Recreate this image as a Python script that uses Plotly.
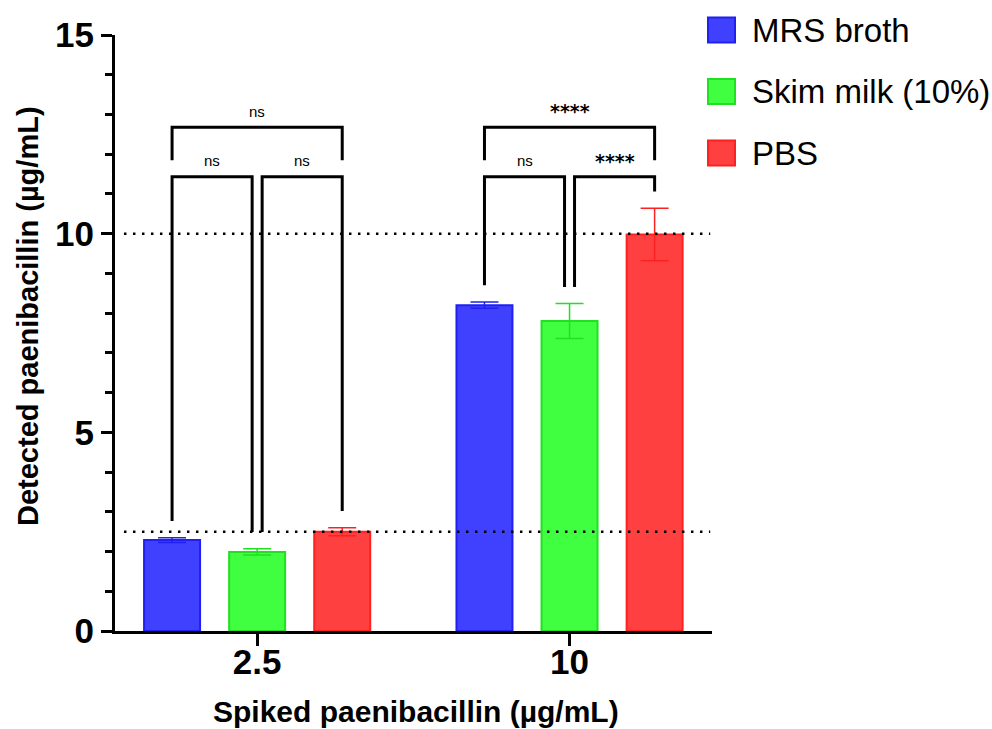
import plotly.graph_objects as go

# ---------------- data ----------------
groups = ["2.5", "10"]                      # spiked concentration (µg/mL)
series_names = ["MRS broth", "Skim milk (10%)", "PBS"]
mrs_mean = [2.29, 8.20]
mrs_sd = [0.06, 0.08]
skim_mean = [1.99, 7.80]
skim_sd = [0.08, 0.44]
pbs_mean = [2.50, 9.98]
pbs_sd = [0.10, 0.66]
ref_lines = [2.5, 10]
y_major_ticks = [0, 5, 10, 15]
y_extra_label = [2.5]
comp_labels_25 = ["ns", "ns", "ns"]        # MRS-Skim, Skim-PBS, MRS-PBS
comp_labels_10 = ["ns", "****", "****"]
x_title = "Spiked paenibacillin (µg/mL)"
y_title = "Detected paenibacillin (µg/mL)"

# ---------------- style ----------------
fills = ["#4040FF", "#40FF40", "#FF4040"]
borders = ["#2020F0", "#20E020", "#FF2020"]
FONT = "Liberation Sans, Arial, sans-serif"
TICK_SIZE = 35

means = [mrs_mean, skim_mean, pbs_mean]
sds = [mrs_sd, skim_sd, pbs_sd]
xpos = list(range(len(groups)))

BARGAP = 0.183
BARGROUPGAP = 0.342
slot = (1 - BARGAP) / 3
offsets = [(k - 1) * slot for k in range(3)]

fig = go.Figure()
for k in range(3):
    fig.add_trace(go.Bar(
        x=xpos, y=means[k], name=series_names[k],
        marker=dict(color=fills[k], line=dict(color=borders[k], width=2)),
        error_y=dict(type="data", array=sds[k], visible=True,
                     color=borders[k], thickness=1.5, width=14),
        showlegend=False,
    ))

shapes = []
annotations = []

# dotted reference lines
for v in ref_lines:
    shapes.append(dict(type="line", xref="paper", yref="y", x0=0.015, x1=0.997,
                       y0=v, y1=v, layer="above",
                       line=dict(color="black", width=2.5, dash="2.5px,6.5px")))


def label_font(lab):
    star = lab.startswith("*")
    return dict(family=("DejaVu Sans" if star else FONT), size=(19 if star else 15),
                color="black", weight=("bold" if star else "normal"))


# significance brackets
LW = 3
GAP = 0.42
SMALL = 0.016
Y_LOW = 11.43
Y_TOP = 12.68
Y_TOP_LEG = 11.85
for g, labels in zip(xpos, [comp_labels_25, comp_labels_10]):
    tops = [means[k][g] + sds[k][g] + GAP for k in range(3)]
    # adjacent comparisons
    for (i, j), lab in zip([(0, 1), (1, 2)], labels[:2]):
        xl = g + offsets[i] + (SMALL if i == 1 else 0)
        xr = g + offsets[j] - (SMALL if j == 1 else 0)
        path = f"M {xl},{tops[i]} L {xl},{Y_LOW} L {xr},{Y_LOW} L {xr},{tops[j]}"
        shapes.append(dict(type="path", xref="x", yref="y", path=path,
                           line=dict(color="black", width=LW)))
        annotations.append(dict(x=(xl + xr) / 2, y=11.83, xref="x", yref="y",
                                text=lab, showarrow=False, font=label_font(lab)))
    # outer comparison
    xl = g + offsets[0]
    xr = g + offsets[2]
    path = f"M {xl},{Y_TOP_LEG} L {xl},{Y_TOP} L {xr},{Y_TOP} L {xr},{Y_TOP_LEG}"
    shapes.append(dict(type="path", xref="x", yref="y", path=path,
                       line=dict(color="black", width=LW)))
    lab = labels[2]
    annotations.append(dict(x=(xl + xr) / 2, y=13.08, xref="x", yref="y",
                            text=lab, showarrow=False, font=label_font(lab)))

# pixel helpers for paper coordinates
W_PLOT = 597.0
H_PLOT = 596.0
L_M = 115.0
T_M = 35.0


def px_x(p):
    return (p - L_M) / W_PLOT


def px_y(p):
    return (T_M + H_PLOT - p) / H_PLOT


# manual legend (large square swatches)
for k, name in enumerate(series_names):
    cy = 30 + 61.5 * k
    shapes.append(dict(type="rect", xref="paper", yref="paper",
                       x0=px_x(708), x1=px_x(735), y0=px_y(cy + 12.5), y1=px_y(cy - 12.5),
                       fillcolor=fills[k], line=dict(color=borders[k], width=2)))
    annotations.append(dict(x=px_x(750), y=px_y(cy), xref="paper", yref="paper",
                            xanchor="left", yanchor="middle", text=name, showarrow=False,
                            font=dict(family=FONT, size=33, color="black")))

# axis titles
annotations.append(dict(x=px_x(416), y=px_y(711), xref="paper", yref="paper",
                        xanchor="center", yanchor="middle", text=x_title, showarrow=False,
                        font=dict(family=FONT, size=30, color="black", weight="bold")))
annotations.append(dict(x=px_x(28), y=px_y(316), xref="paper", yref="paper",
                        xanchor="center", yanchor="middle", text=y_title, showarrow=False,
                        textangle=-90,
                        font=dict(family=FONT, size=29, color="black", weight="bold")))

fig.update_layout(
    width=992, height=729,
    margin=dict(l=115, r=280, t=35, b=98, autoexpand=False),
    paper_bgcolor="white", plot_bgcolor="white",
    barmode="group", bargap=BARGAP, bargroupgap=BARGROUPGAP,
    shapes=shapes, annotations=annotations,
    showlegend=False,
    xaxis=dict(
        range=[-0.455, 1.456], tickvals=xpos, ticktext=groups,
        showline=True, linecolor="black", linewidth=3,
        ticks="outside", ticklen=12, tickwidth=3, tickcolor="black",
        ticklabelstandoff=-14,
        tickfont=dict(family=FONT, size=TICK_SIZE, color="black", weight="bold"),
        showgrid=False, zeroline=False,
    ),
    yaxis=dict(
        range=[0, 15], tickvals=y_major_ticks,
        showline=True, linecolor="black", linewidth=3,
        ticks="outside", ticklen=11, tickwidth=3, tickcolor="black",
        minor=dict(dtick=1, tick0=0, ticks="outside", ticklen=7, tickwidth=3,
                   tickcolor="black", showgrid=False),
        tickfont=dict(family=FONT, size=TICK_SIZE, color="black", weight="bold"),
        showgrid=False, zeroline=False,
    ),
    yaxis2=dict(
        range=[0, 15], overlaying="y", side="left", anchor="x",
        tickvals=y_extra_label, ticktext=[str(v) for v in y_extra_label],
        showline=False, ticks="outside", ticklen=11, tickwidth=3,
        tickcolor="rgba(0,0,0,0)",
        tickfont=dict(family=FONT, size=TICK_SIZE, color="black", weight="bold"),
        showgrid=False, zeroline=False,
    ),
)

fig.write_html("out.html", config={"displayModeBar": False},
               post_script="document.body.style.margin='0';document.body.style.overflow='hidden';")
